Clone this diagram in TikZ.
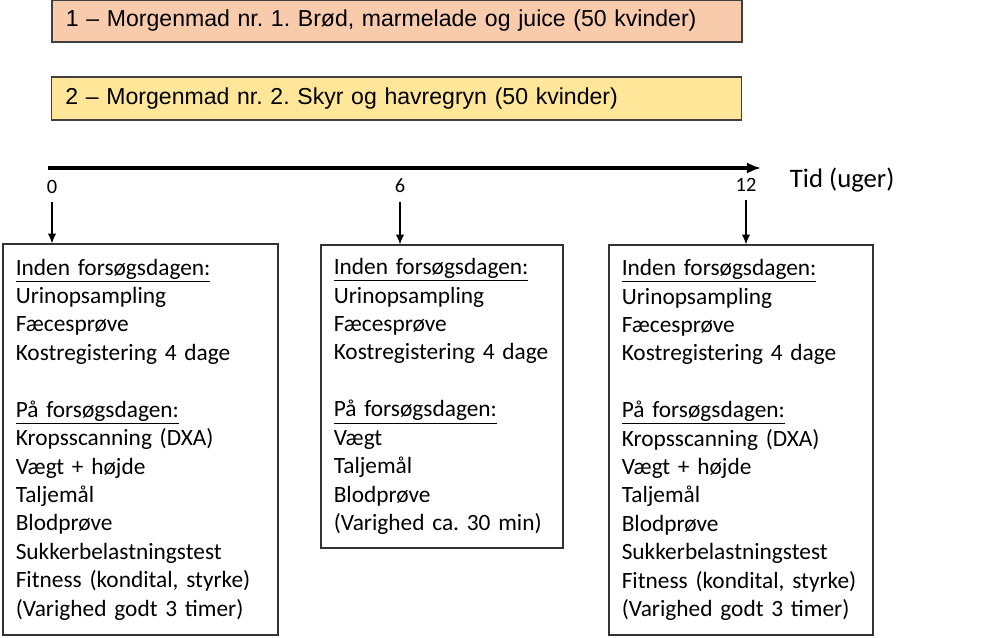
\documentclass[tikz,border=0pt]{standalone}
\usepackage{fontspec}
\setmainfont{Carlito}
\newfontfamily\arialfont{Liberation Sans}
\usepackage{tikz}
\usetikzlibrary{arrows, arrows.meta}
\frenchspacing
\definecolor{mealOne}{RGB}{248,203,173}
\definecolor{mealTwo}{RGB}{255,230,153}
\tikzstyle{meal} = [rectangle, draw=black!75, line width=0.9pt, minimum height=1.05cm, text width=16.55cm, inner xsep=0.35cm, align=left, font=\arialfont\fontsize{16.4}{20}\selectfont]
\tikzstyle{visit} = [rectangle, draw=black!80, line width=0.8pt, inner xsep=0.32cm, align=left, font=\fontsize{16.6}{20.2}\selectfont]
\tikzstyle{tick} = [font=\fontsize{14.5}{16}\selectfont, inner sep=1pt]
\tikzstyle{axis} = [line width=2.4pt, -{Latex[length=10pt,width=8pt]}]
\tikzstyle{arrow} = [line width=0.9pt, -{Latex[length=7pt,width=6pt]}, shorten <=5pt]

\begin{document}
\begin{tikzpicture}[x=0.025cm, y=-0.025cm]
\useasboundingbox (0,0) rectangle (1000,638);
\node (mealOneBox) [meal, fill=mealOne, minimum height=1.05cm] at (397,21) {1 – Morgenmad nr. 1. Brød, marmelade og juice (50 kvinder)};
\node (mealTwoBox) [meal, fill=mealTwo, minimum height=1.075cm] at (396.5,98.5) {2 – Morgenmad nr. 2. Skyr og havregryn (50 kvinder)};

\coordinate (axisStart) at (48,168);
\coordinate (axisEnd) at (761,168);
\draw [axis] (axisStart) -- (axisEnd);
\node (timeLabel) [font=\fontsize{19}{22}\selectfont, anchor=west] at (785,180) {Tid (uger)};

\node (tickZero) [tick] at (52,187) {0};
\node (tickSix) [tick] at (400,186) {6};
\node (tickTwelve) [tick] at (746,185) {12};

\node (visitOne) [visit, text width=6.235cm, minimum height=9.775cm] at (140.5,439.5) {\underline{Inden forsøgsdagen:}\\
Urinopsampling\\
Fæcesprøve\\
Kostregistering 4 dage\\[20.2pt]
\underline{På forsøgsdagen:}\\
Kropsscanning (DXA)\\
Vægt + højde\\
Taljemål\\
Blodprøve\\
Sukkerbelastningstest\\
Fitness (kondital, styrke)\\
(Varighed godt 3 timer)};
\node (visitTwo) [visit, text width=5.41cm, minimum height=7.575cm] at (442,396.5) {\underline{Inden forsøgsdagen:}\\
Urinopsampling\\
Fæcesprøve\\
Kostregistering 4 dage\\[20.2pt]
\underline{På forsøgsdagen:}\\
Vægt\\
Taljemål\\
Blodprøve\\
(Varighed ca. 30 min)};
\node (visitThree) [visit, text width=5.96cm, minimum height=9.75cm] at (741,440) {\underline{Inden forsøgsdagen:}\\
Urinopsampling\\
Fæcesprøve\\
Kostregistering 4 dage\\[20.2pt]
\underline{På forsøgsdagen:}\\
Kropsscanning (DXA)\\
Vægt + højde\\
Taljemål\\
Blodprøve\\
Sukkerbelastningstest\\
Fitness (kondital, styrke)\\
(Varighed godt 3 timer)};

\draw [arrow] (tickZero) -- (tickZero |- visitOne.north);
\draw [arrow] (tickSix) -- (tickSix |- visitTwo.north);
\draw [arrow] (tickTwelve) -- (tickTwelve |- visitThree.north);
\end{tikzpicture}
\end{document}
